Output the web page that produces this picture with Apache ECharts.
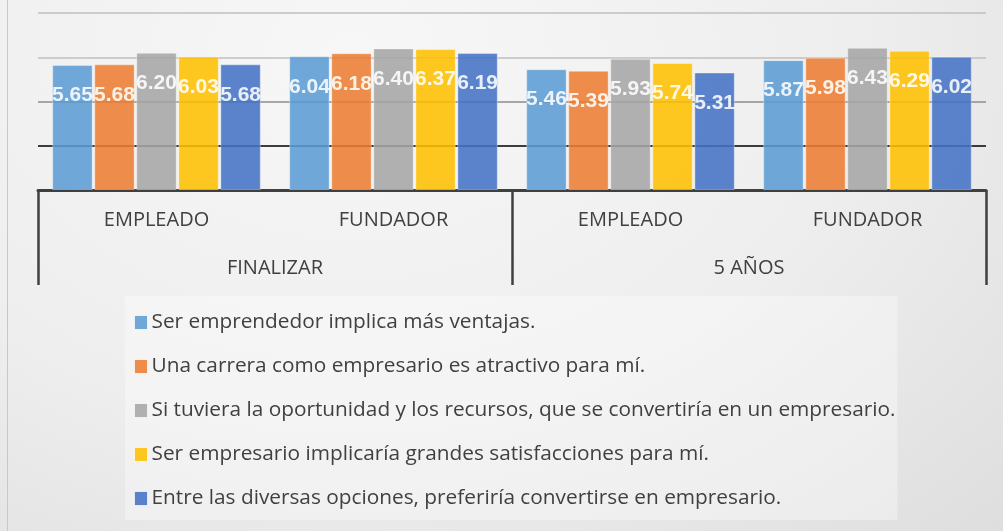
<!DOCTYPE html>
<html>
<head>
<meta charset="utf-8">
<script src="https://cdn.jsdelivr.net/npm/echarts@6/dist/echarts.min.js"></script>
<style>
  html, body { margin: 0; padding: 0; }
  body {
    width: 1003px; height: 531px; overflow: hidden;
    background: radial-gradient(ellipse at 35% 10%, #f7f7f7 0%, #eeeeee 55%, #dedede 100%);
  }
  #chart { position: absolute; left: 0; top: 0; width: 1003px; height: 531px; }
  .edge { position: absolute; left: 7px; top: 0; width: 1px; height: 531px; background: #c8c8c8; }
</style>
</head>
<body>
<div class="edge"></div>
<div id="chart"></div>
<script>
// categorias (dos niveles)
const subCategories = ['EMPLEADO', 'FUNDADOR', 'EMPLEADO', 'FUNDADOR']
const groupCategories = ['FINALIZAR', '5 AÑOS']

// series
const seriesNames = [
  'Ser emprendedor implica más ventajas.',
  'Una carrera como empresario es atractivo para mí.',
  'Si tuviera la oportunidad y los recursos, que se convertiría en un empresario.',
  'Ser empresario implicaría grandes satisfacciones para mí.',
  'Entre las diversas opciones, preferiría convertirse en empresario.'
]
const ventajas = [5.65, 6.04, 5.46, 5.87]
const atractivo = [5.68, 6.18, 5.39, 5.98]
const oportunidad = [6.20, 6.40, 5.93, 6.43]
const satisfacciones = [6.03, 6.37, 5.74, 6.29]
const preferiria = [5.68, 6.19, 5.31, 6.02]

const colors = ['#5b9bd5', '#ed7d31', '#a5a5a5', '#ffc000', '#4472c4']
const seriesData = [ventajas, atractivo, oportunidad, satisfacciones, preferiria]

const myChart = echarts.init(document.getElementById('chart'))

const option = {
  backgroundColor: 'transparent',
  animation: false,
  grid: { left: 38, right: 17, top: 13, bottom: 341 },
  legend: {
    orient: 'vertical',
    left: 125,
    top: 296,
    padding: [16, 2, 11, 9],
    backgroundColor: 'rgba(255,255,255,0.35)',
    itemGap: 23,
    itemWidth: 13,
    itemHeight: 14,
    icon: 'rect',
    itemStyle: { borderColor: 'rgba(255,255,255,0.8)', borderWidth: 1 },
    textStyle: { color: '#404040', fontSize: 20.8, lineHeight: 20, fontFamily: 'Open Sans', padding: [0, 0, 0, -1] },
    data: seriesNames
  },
  xAxis: [
    {
      type: 'category',
      data: subCategories,
      position: 'bottom',
      axisLine: { lineStyle: { color: '#404040', width: 3 } },
      axisTick: { show: false },
      axisLabel: { margin: 20, color: '#404040', fontSize: 20, fontFamily: 'Open Sans' }
    },
    {
      type: 'category',
      data: groupCategories,
      position: 'bottom',
      axisLine: { show: false },
      axisTick: { show: true, length: 95, interval: 0, lineStyle: { color: '#404040', width: 2.5 } },
      axisLabel: { margin: 68, color: '#404040', fontSize: 20, fontFamily: 'Open Sans' }
    }
  ],
  yAxis: {
    type: 'value',
    min: 0,
    max: 8,
    interval: 2,
    axisLine: { show: false },
    axisTick: { show: false },
    axisLabel: { show: false },
    splitLine: {
      lineStyle: { color: ['transparent', '#000000', '#8c8c8c', '#bfbfbf', '#bfbfbf'], width: 1.6 }
    }
  },
  series: seriesNames.map((name, i) => ({
    name: name,
    type: 'bar',
    xAxisIndex: 0,
    data: seriesData[i],
    barGap: '4%',
    barCategoryGap: '12%',
    itemStyle: {
      color: colors[i],
      opacity: 0.87,
      borderColor: 'rgba(255,255,255,0.4)',
      borderWidth: 1
    },
    label: {
      show: true,
      position: 'insideTop',
      distance: 20,
      color: '#ffffff',
      fontWeight: 'bold',
      fontSize: 21,
      fontFamily: 'Liberation Sans',
      formatter: p => p.value.toFixed(2)
    }
  }))
}
myChart.setOption(option)
</script>
</body>
</html>
